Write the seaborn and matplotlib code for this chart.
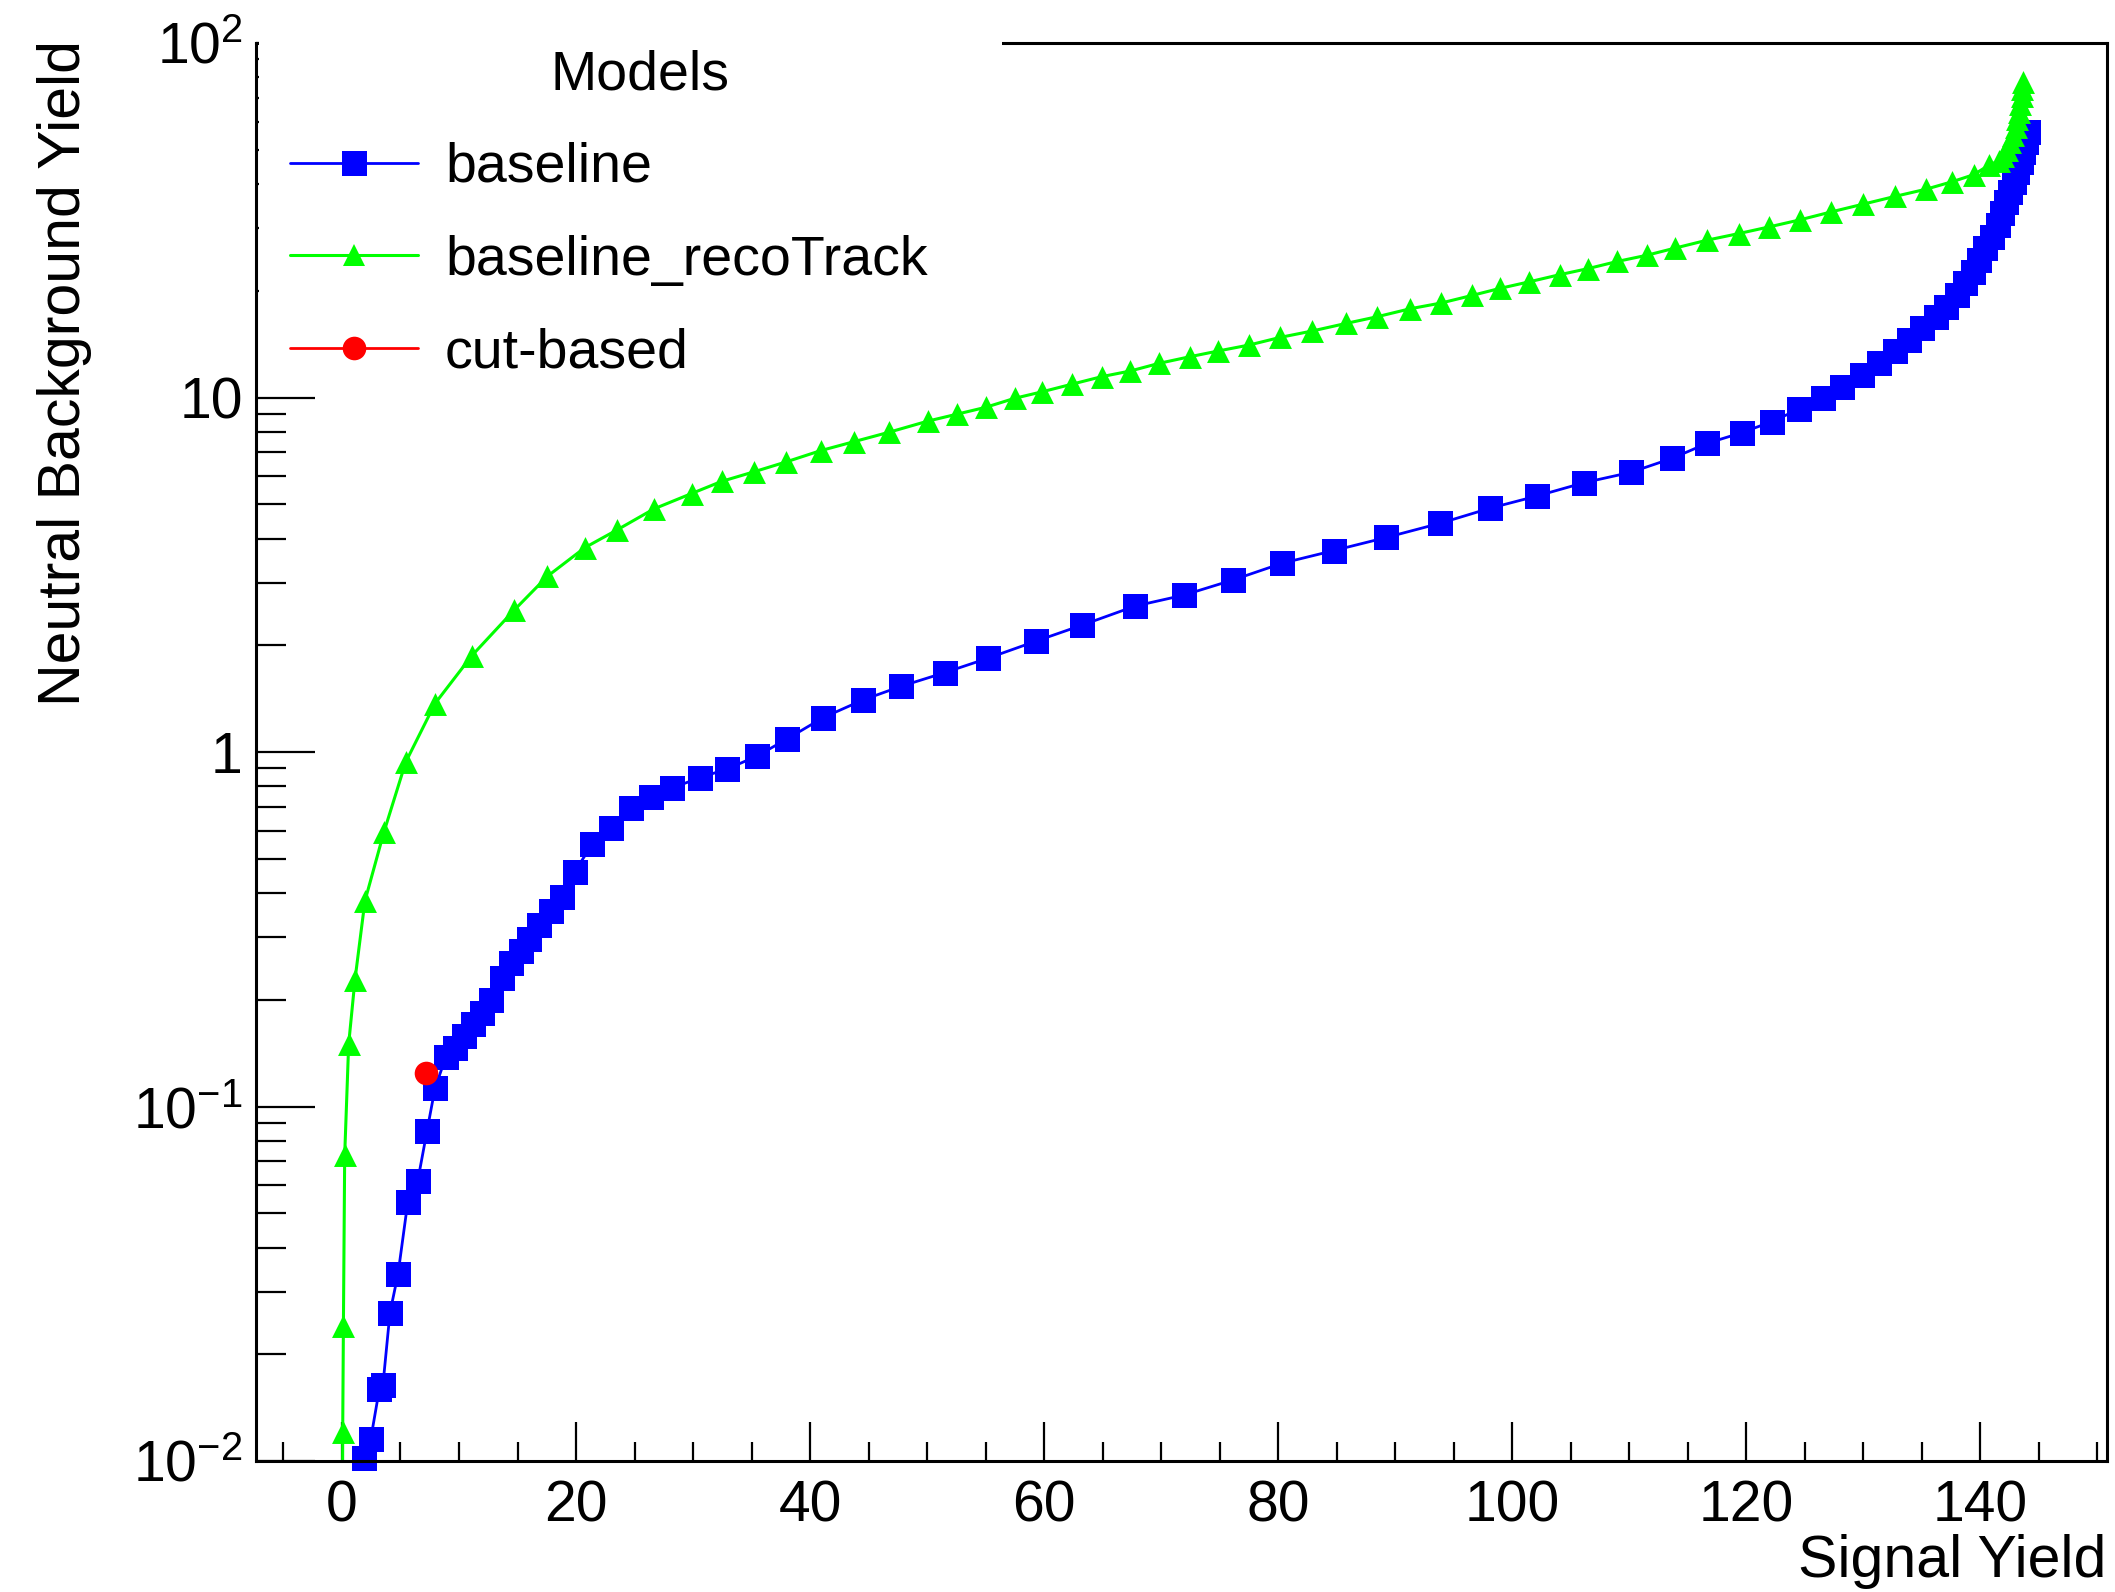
import matplotlib
matplotlib.use("Agg")
import matplotlib.pyplot as plt
from matplotlib.lines import Line2D
from matplotlib.patches import Rectangle
from matplotlib.ticker import FixedLocator, MultipleLocator, NullFormatter
import pandas as pd
import seaborn as sns

# ---------------- data ----------------
# baseline model: signal yield vs neutral background yield
baseline_signal = [1.5, 1.9, 2.45, 3.2, 3.5, 4.10, 4.79, 5.62, 6.47, 7.27, 7.95,
                   8.86, 9.66, 10.43, 11.23, 12.0, 12.77, 13.65, 14.42, 15.27, 15.98,
                   16.84, 17.84, 18.84, 19.89, 21.40, 23.03, 24.74, 26.38, 28.24, 30.60,
                   32.94, 35.44, 38.01, 41.14, 44.54, 47.8, 51.5, 55.19, 59.34, 63.26,
                   67.78, 71.94, 76.19, 80.38, 84.76, 89.27, 93.88, 98.1, 102.1, 106.15,
                   110.15, 113.7, 116.7, 119.65, 122.2, 124.5, 126.6, 128.2, 129.9, 131.4,
                   132.7, 133.9, 135.0, 136.2, 137.1, 138.0, 138.7, 139.4, 139.9, 140.45,
                   141.0, 141.5, 141.9, 142.2, 142.6, 142.9, 143.2, 143.5, 143.7, 143.9,
                   144.1]
baseline_bkg = [0.005, 0.0102, 0.0115, 0.0160, 0.0164, 0.0262, 0.0337, 0.0537, 0.0616, 0.0855, 0.1126,
                0.1375, 0.1466, 0.1584, 0.171, 0.1834, 0.1995, 0.2298, 0.2547, 0.275, 0.297,
                0.325, 0.356, 0.389, 0.460, 0.550, 0.610, 0.693, 0.748, 0.792, 0.847,
                0.896, 0.973, 1.087, 1.251, 1.403, 1.533, 1.674, 1.838, 2.056, 2.28,
                2.58, 2.77, 3.06, 3.41, 3.70, 4.03, 4.42, 4.87, 5.27, 5.75,
                6.15, 6.74, 7.43, 7.96, 8.55, 9.26, 9.95, 10.7, 11.6, 12.5,
                13.5, 14.5, 15.7, 16.9, 18.0, 19.5, 21.0, 22.6, 24.4, 26.4,
                28.4, 30.7, 33.1, 35.7, 38.1, 40.6, 43.4, 46.3, 49.4, 52.7,
                56.2]

# baseline_recoTrack model
recotrack_signal = [0.0, 0.06, 0.12, 0.23, 0.57, 1.11, 1.96, 3.58, 5.45, 7.95, 11.1,
                    14.7, 17.55, 20.75, 23.5, 26.66, 29.88, 32.45, 35.2, 37.95, 40.9,
                    43.72, 46.75, 50.08, 52.6, 55.0, 57.5, 59.85, 62.37, 64.93, 67.38,
                    69.86, 72.45, 74.9, 77.52, 80.2, 82.91, 85.85, 88.48, 91.3, 93.93,
                    96.57, 98.93, 101.47, 104.06, 106.5, 109.0, 111.54, 113.95, 116.7, 119.37,
                    122.0, 124.6, 127.3, 130.0, 132.7, 135.4, 137.6, 139.45, 140.8, 141.6,
                    142.0, 142.3, 142.6, 142.85, 143.05, 143.2, 143.35, 143.45, 143.55, 143.62,
                    143.7]
recotrack_bkg = [0.002, 0.0121, 0.024, 0.0728, 0.150, 0.228, 0.38, 0.594, 0.937, 1.37, 1.87,
                 2.51, 3.13, 3.77, 4.23, 4.85, 5.36, 5.8, 6.17, 6.58, 7.08,
                 7.5, 7.98, 8.58, 8.98, 9.38, 9.95, 10.38, 10.9, 11.45, 11.88,
                 12.49, 13.03, 13.53, 14.06, 14.78, 15.4, 16.19, 16.9, 17.8, 18.47,
                 19.4, 20.3, 21.2, 22.2, 23.1, 24.2, 25.2, 26.4, 27.8, 29.0,
                 30.3, 31.7, 33.4, 35.1, 36.9, 38.7, 40.6, 42.5, 45.3, 46.5,
                 48.0, 50.0, 52.5, 55.0, 58.0, 61.0, 64.0, 67.5, 71.0, 74.0,
                 77.5]

# cut-based working point
cutbased_signal = [7.15]
cutbased_bkg = [0.124]

series_labels = ["baseline", "baseline_recoTrack", "cut-based"]
legend_title = "Models"
x_label = "Signal Yield"
y_label = "Neutral Background Yield"
x_major_ticks = [0, 20, 40, 60, 80, 100, 120, 140]
y_major_ticks = [0.01, 0.1, 1, 10, 100]
y_tick_labels = [r"$10^{-2}$", r"$10^{-1}$", "1", "10", r"$10^{2}$"]
x_range = (-7.35, 150.85)
y_range = (0.01, 100)

# ---------------- style ----------------
W, H, DPI = 2115, 1592, 100
sns.set_style("white")
plt.rcParams["font.family"] = ["Liberation Sans", "DejaVu Sans"]
plt.rcParams["mathtext.fontset"] = "custom"
plt.rcParams["mathtext.rm"] = "Liberation Sans"
plt.rcParams["mathtext.it"] = "Liberation Sans:italic"
plt.rcParams["mathtext.bf"] = "Liberation Sans:bold"
plt.rcParams["mathtext.default"] = "regular"
for key in ("text.color", "axes.labelcolor", "xtick.color", "ytick.color",
            "axes.edgecolor"):
    plt.rcParams[key] = "black"

BLUE, GREEN, RED = "#0000ff", "#00ff00", "#ff0000"
TICK_FS = 41
LEG_FS = 40
LAB_FS = 42.5


def fx(px):
    return px / W


def fy(py):
    return 1 - py / H


fig = plt.figure(figsize=(W / DPI, H / DPI), dpi=DPI)
fig.patch.set_facecolor("white")
ax = fig.add_axes([fx(256), fy(1461), (2107 - 256) / W, (1461 - 43) / H])
ax.set_facecolor("white")

df_base = pd.DataFrame({"signal": baseline_signal, "bkg": baseline_bkg})
df_reco = pd.DataFrame({"signal": recotrack_signal, "bkg": recotrack_bkg})
df_cut = pd.DataFrame({"signal": cutbased_signal, "bkg": cutbased_bkg})

series = [
    (df_base, BLUE, "s", 18, 2.0),
    (df_reco, GREEN, "^", 16.5, 2.2),
    (df_cut, RED, "o", 17, 2.0),
]

z = 2.0
for df, col, mk, ms, lw in series:
    sns.lineplot(data=df, x="signal", y="bkg", sort=False, estimator=None,
                 color=col, lw=lw, ax=ax, zorder=z)
    inside = df[(df["bkg"] >= y_range[0] * 0.99) & (df["bkg"] <= y_range[1])]
    sns.scatterplot(data=inside, x="signal", y="bkg", marker=mk, s=ms ** 2,
                    color=col, linewidth=0, ax=ax, zorder=z + 0.05,
                    clip_on=False, legend=False)
    z += 0.1

ax.set_yscale("log")
ax.set_xlim(*x_range)
ax.set_ylim(*y_range)
ax.set_xlabel("")
ax.set_ylabel("")

# ticks
ax.xaxis.set_major_locator(FixedLocator(x_major_ticks))
ax.xaxis.set_minor_locator(MultipleLocator(5))
ax.set_xticklabels([str(t) for t in x_major_ticks])
ax.set_yticks(y_major_ticks, y_tick_labels)
y_minor = [k * 10.0 ** e for e in range(-2, 2) for k in range(2, 10)]
ax.yaxis.set_minor_locator(FixedLocator(y_minor))
ax.yaxis.set_minor_formatter(NullFormatter())

ax.tick_params(axis="both", which="both", direction="in", bottom=True, left=True,
               top=False, right=False, color="black", labelcolor="black", width=1.6)
ax.tick_params(axis="x", which="major", length=28, pad=13.5, labelsize=TICK_FS)
ax.tick_params(axis="x", which="minor", length=14)
ax.tick_params(axis="y", which="major", length=42.5, pad=9.5, labelsize=TICK_FS)
ax.tick_params(axis="y", which="minor", length=21.5)

for sp in ax.spines.values():
    sp.set_visible(True)
    sp.set_color("black")
    sp.set_linewidth(2.2)

# legend background box (covers the frame and ticks underneath it)
box = Rectangle((fx(258.5), fy(395)), (1002 - 258.5) / W, (395 - 24) / H,
                transform=fig.transFigure, facecolor="white", edgecolor="none",
                zorder=4, clip_on=False)
ax.add_patch(box)

handles = [Line2D([], [], color=col, lw=lw, marker=mk, markersize=ms,
                  markeredgewidth=0)
           for (_, col, mk, ms, lw) in series]
leg = ax.legend(handles, series_labels, loc="upper left",
                bbox_to_anchor=(fx(290), fy(142)), bbox_transform=fig.transFigure,
                frameon=False, fontsize=LEG_FS, handlelength=2.3,
                handletextpad=0.49, labelspacing=0.734, borderpad=0,
                borderaxespad=0, numpoints=1)
leg.set_zorder(5)
for t in leg.get_texts():
    t.set_color("black")

fig.text(fx(640), fy(89), legend_title, ha="center", va="baseline",
         fontsize=LEG_FS, color="black", zorder=6)

# axis titles
fig.text(fx(2106), fy(1577), x_label, ha="right", va="baseline",
         fontsize=LAB_FS, color="black")
fig.text(fx(80), fy(40), y_label, ha="right", va="baseline", rotation=90,
         rotation_mode="anchor", fontsize=LAB_FS, color="black")

fig.savefig("out.png", dpi=DPI, facecolor="white")
